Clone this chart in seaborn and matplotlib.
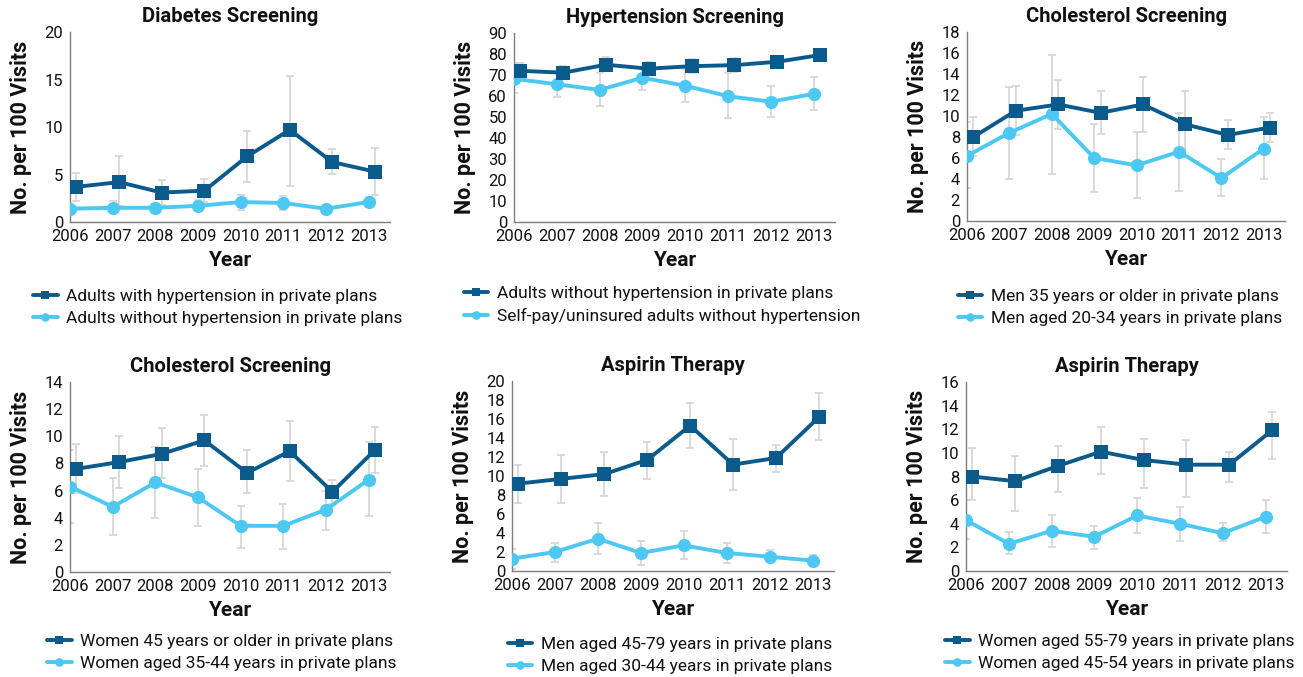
import numpy as np
import pandas as pd
import matplotlib
matplotlib.use("Agg")
import matplotlib.pyplot as plt
import seaborn as sns

sns.set_style("white")
plt.rcParams['font.family'] = ['Roboto', 'DejaVu Sans']

years = [2006, 2007, 2008, 2009, 2010, 2011, 2012, 2013]

titles = ["Diabetes Screening", "Hypertension Screening", "Cholesterol Screening",
          "Cholesterol Screening", "Aspirin Therapy", "Aspirin Therapy"]

dark_labels = ["Adults with hypertension in private plans",
               "Adults without hypertension in private plans",
               "Men 35 years or older in private plans",
               "Women 45 years or older in private plans",
               "Men aged 45-79 years in private plans",
               "Women aged 55-79 years in private plans"]
light_labels = ["Adults without hypertension in private plans",
                "Self-pay/uninsured adults without hypertension",
                "Men aged 20-34 years in private plans",
                "Women aged 35-44 years in private plans",
                "Men aged 30-44 years in private plans",
                "Women aged 45-54 years in private plans"]

# Panel 1: Diabetes
d1 = [3.7, 4.2, 3.1, 3.3, 6.9, 9.7, 6.3, 5.3]
d1_lo = [2.2, 1.7, 1.8, 2.1, 4.2, 3.8, 5.1, 2.8]
d1_hi = [5.2, 6.9, 4.4, 4.5, 9.6, 15.4, 7.7, 7.8]
l1 = [1.4, 1.5, 1.5, 1.7, 2.1, 2.0, 1.4, 2.1]
l1_lo = [1.0, 1.0, 1.1, 1.2, 1.3, 1.3, 1.1, 1.6]
l1_hi = [1.8, 2.2, 1.9, 2.3, 2.8, 2.7, 1.7, 2.6]

# Panel 2: Hypertension
d2 = [72.0, 71.1, 74.9, 73.0, 74.2, 74.7, 76.3, 79.5]
d2_lo = [68.5, 68.0, 71.7, 70.0, 71.0, 71.6, 74.0, 77.5]
d2_hi = [75.8, 74.2, 78.4, 76.1, 77.7, 78.0, 78.5, 81.5]
l2 = [68.2, 65.6, 62.9, 68.7, 64.9, 59.9, 57.3, 61.0]
l2_lo = [61.6, 59.4, 55.3, 62.9, 57.3, 49.6, 49.9, 53.2]
l2_hi = [75.5, 72.0, 71.0, 74.0, 73.0, 70.8, 64.9, 69.0]

# Panel 3: Cholesterol (men)
d3 = [8.0, 10.5, 11.1, 10.3, 11.1, 9.2, 8.2, 8.9]
d3_lo = [6.2, 8.2, 8.8, 8.3, 8.5, 6.1, 6.9, 7.5]
d3_hi = [9.9, 12.9, 13.4, 12.4, 13.7, 12.4, 9.6, 10.3]
l3 = [6.2, 8.4, 10.2, 6.0, 5.3, 6.6, 4.1, 6.9]
l3_lo = [3.1, 4.0, 4.5, 2.8, 2.2, 2.9, 2.4, 4.0]
l3_hi = [9.4, 12.8, 15.8, 9.2, 8.5, 10.3, 5.9, 9.9]

# Panel 4: Cholesterol (women)
d4 = [7.6, 8.1, 8.7, 9.7, 7.3, 8.9, 5.9, 9.0]
d4_lo = [5.8, 6.2, 6.9, 7.8, 5.8, 6.7, 5.0, 7.3]
d4_hi = [9.4, 10.0, 10.6, 11.6, 9.0, 11.1, 6.8, 10.7]
l4 = [6.3, 4.8, 6.6, 5.5, 3.4, 3.4, 4.6, 6.8]
l4_lo = [3.6, 2.7, 4.0, 3.4, 1.8, 1.7, 3.1, 4.1]
l4_hi = [9.0, 6.9, 9.2, 7.6, 4.9, 5.0, 6.0, 9.6]

# Panel 5: Aspirin (men)
d5 = [9.2, 9.7, 10.2, 11.7, 15.3, 11.2, 11.9, 16.2]
d5_lo = [7.2, 7.2, 7.9, 9.7, 12.9, 8.5, 10.4, 13.8]
d5_hi = [11.2, 12.2, 12.5, 13.6, 17.7, 13.9, 13.3, 18.7]
l5 = [1.3, 2.0, 3.4, 1.9, 2.7, 1.9, 1.5, 1.1]
l5_lo = [0.2, 0.9, 1.8, 0.6, 1.3, 0.8, 0.9, 0.6]
l5_hi = [2.3, 3.0, 5.1, 3.2, 4.2, 3.0, 2.2, 1.7]

# Panel 6: Aspirin (women)
d6 = [8.0, 7.6, 8.9, 10.1, 9.4, 9.0, 9.0, 11.9]
d6_lo = [6.0, 5.1, 6.7, 8.2, 7.0, 6.3, 7.5, 9.5]
d6_hi = [10.4, 9.7, 10.6, 12.2, 11.2, 11.1, 10.1, 13.5]
l6 = [4.3, 2.3, 3.4, 2.9, 4.7, 4.0, 3.2, 4.6]
l6_lo = [2.7, 1.4, 2.0, 1.9, 3.2, 2.5, 2.5, 3.2]
l6_hi = [6.0, 3.3, 4.7, 3.8, 6.2, 5.4, 4.1, 6.0]

y_max = [20, 90, 18, 14, 20, 16]
y_step = [5, 10, 2, 2, 2, 2]

dark_sets = [(d1, d1_lo, d1_hi), (d2, d2_lo, d2_hi), (d3, d3_lo, d3_hi),
             (d4, d4_lo, d4_hi), (d5, d5_lo, d5_hi), (d6, d6_lo, d6_hi)]
light_sets = [(l1, l1_lo, l1_hi), (l2, l2_lo, l2_hi), (l3, l3_lo, l3_hi),
              (l4, l4_lo, l4_hi), (l5, l5_lo, l5_hi), (l6, l6_lo, l6_hi)]

DARK = "#0A5A8C"
LIGHT = "#4CC8F2"
ERR = "#D4D4D4"
SPINE = "#7f7f7f"
TXT = "#111111"

W, H = 1303, 677
fig = plt.figure(figsize=(W / 100, H / 100), dpi=100)

# axes boxes in pixels: left, right, top, bottom
boxes = [(70, 390, 32, 222), (514, 835, 33, 222), (967, 1285, 32, 221),
         (70, 390, 382, 572), (512, 834, 381, 571), (966, 1287, 382, 571)]
legend_cx = [218, 662, 1120, 222, 670, 1120]
legend_top = [280, 277, 280, 625, 628, 625]

for i in range(6):
    l, r, t, b = boxes[i]
    ax = fig.add_axes([l / W, 1 - b / H, (r - l) / W, (b - t) / H])
    yrs = np.array(years, dtype=float)
    for (vals, lo, hi), col, mk, lab, off, z in [
            (dark_sets[i], DARK, "s", dark_labels[i], 0.15, 4),
            (light_sets[i], LIGHT, "o", light_labels[i], 0.0, 3)]:
        vals = np.array(vals); lo = np.array(lo); hi = np.array(hi)
        xs = yrs + off
        ax.errorbar(xs, vals, yerr=[vals - lo, hi - vals], fmt="none",
                    ecolor=ERR, elinewidth=1.2, capsize=3, capthick=1.2, zorder=1)
        df = pd.DataFrame({"Year": xs, "Value": vals})
        sns.lineplot(data=df, x="Year", y="Value", ax=ax, color=col, marker=mk,
                     markersize=9.5, markeredgewidth=0, linewidth=2.8,
                     label=lab, zorder=z, legend=False)
    ax.set_xlim(2006, 2013.5)
    ax.set_ylim(0, y_max[i])
    ax.set_xticks(years)
    ax.set_xticklabels([str(y) for y in years])
    ax.set_yticks(np.arange(0, y_max[i] + 0.01, y_step[i]))
    ax.tick_params(axis="both", labelsize=12, length=4, width=1,
                   direction="out", pad=1, labelcolor=TXT, color=SPINE)
    for s in ["top", "right"]:
        ax.spines[s].set_visible(False)
    for s in ["left", "bottom"]:
        ax.spines[s].set_color(SPINE)
        ax.spines[s].set_linewidth(1)
    ax.set_title(titles[i], fontsize=14.5, fontweight="bold", pad=7, color=TXT)
    ax.set_xlabel("Year", fontsize=15, fontweight="bold", labelpad=5, color=TXT)
    ax.set_ylabel("No. per 100 Visits", fontsize=15.5, fontweight="bold",
                  labelpad=9, color=TXT)
    ax.grid(False)
    h, lb = ax.get_legend_handles_labels()
    fig.legend(h, lb, loc="upper center",
               bbox_to_anchor=(legend_cx[i] / W, 1 - legend_top[i] / H),
               frameon=False, fontsize=12.5, handlelength=1.4,
               markerscale=0.65, labelspacing=0.42, handletextpad=0.5,
               borderpad=0, labelcolor=TXT)

fig.savefig("out.png", dpi=100)
